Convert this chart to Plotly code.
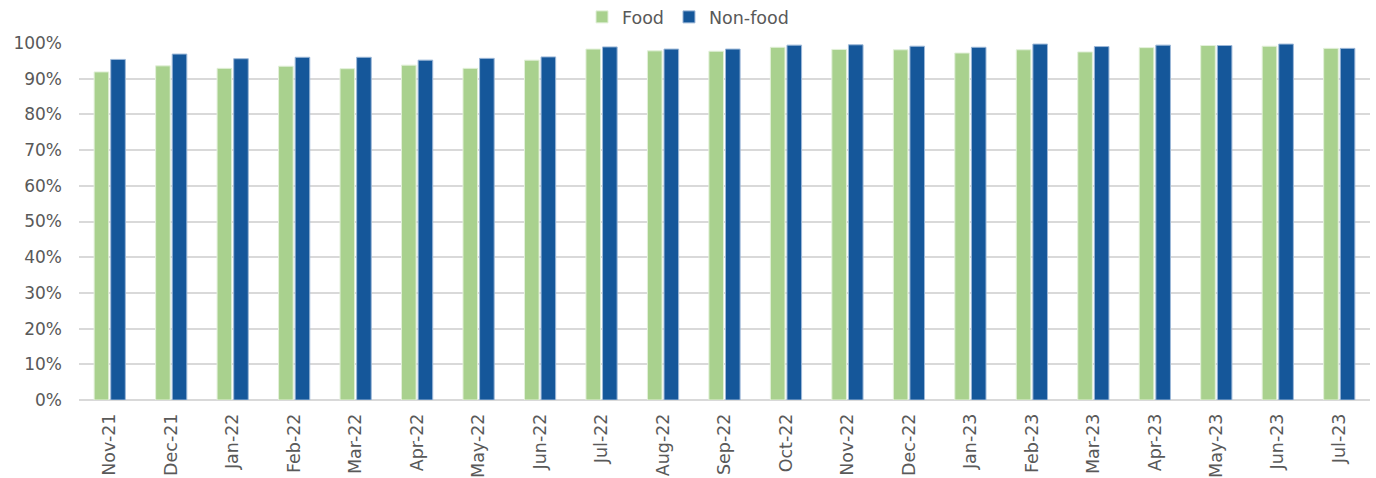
import plotly.graph_objects as go

months = ["Nov-21", "Dec-21", "Jan-22", "Feb-22", "Mar-22", "Apr-22", "May-22", "Jun-22",
          "Jul-22", "Aug-22", "Sep-22", "Oct-22", "Nov-22", "Dec-22", "Jan-23", "Feb-23",
          "Mar-23", "Apr-23", "May-23", "Jun-23", "Jul-23"]
food = [0.919, 0.936, 0.929, 0.935, 0.928, 0.938, 0.929, 0.952, 0.983, 0.978, 0.977, 0.988,
        0.982, 0.981, 0.972, 0.981, 0.975, 0.987, 0.993, 0.991, 0.985]
nonfood = [0.954, 0.969, 0.956, 0.960, 0.960, 0.952, 0.957, 0.961, 0.989, 0.983, 0.983, 0.994,
           0.995, 0.991, 0.988, 0.997, 0.990, 0.994, 0.993, 0.997, 0.985]
yticks = [0, 0.1, 0.2, 0.3, 0.4, 0.5, 0.6, 0.7, 0.8, 0.9, 1.0]

FONT = "'DejaVu Sans', sans-serif"
fig = go.Figure()
fig.add_trace(go.Bar(x=months, y=food, name="Food",
                     marker=dict(color="#A9D18E", line=dict(color="#E2F0D9", width=1))))
fig.add_trace(go.Bar(x=months, y=nonfood, name="Non-food",
                     marker=dict(color="#15579A", line=dict(color="#9DB8D8", width=1))))

fig.update_layout(
    width=1376, height=478,
    margin=dict(l=79, r=6, t=43, b=78, autoexpand=False),
    plot_bgcolor="white", paper_bgcolor="white",
    barmode="group", bargap=0.46, bargroupgap=0.12,
    font=dict(family=FONT, color="#595959", size=17),
    legend=dict(orientation="h", x=0.5, xanchor="center", xref="container",
                y=1 - 17 / 478, yanchor="middle", yref="container",
                font=dict(size=17.5, color="#595959"),
                tracegroupgap=0, bgcolor="rgba(0,0,0,0)"),
    xaxis=dict(tickangle=-90, tickfont=dict(size=17.5), showgrid=False, showline=False,
               ticks="", ticklabelstandoff=9),
    yaxis=dict(range=[0, 1.0], tickvals=yticks, tickformat=".0%", showgrid=True,
               gridcolor="#D9D9D9", gridwidth=2, zeroline=True, zerolinecolor="#D9D9D9",
               zerolinewidth=2, ticks="", ticklabelstandoff=16, tickfont=dict(size=17)),
)
fig.write_html("out.html")
